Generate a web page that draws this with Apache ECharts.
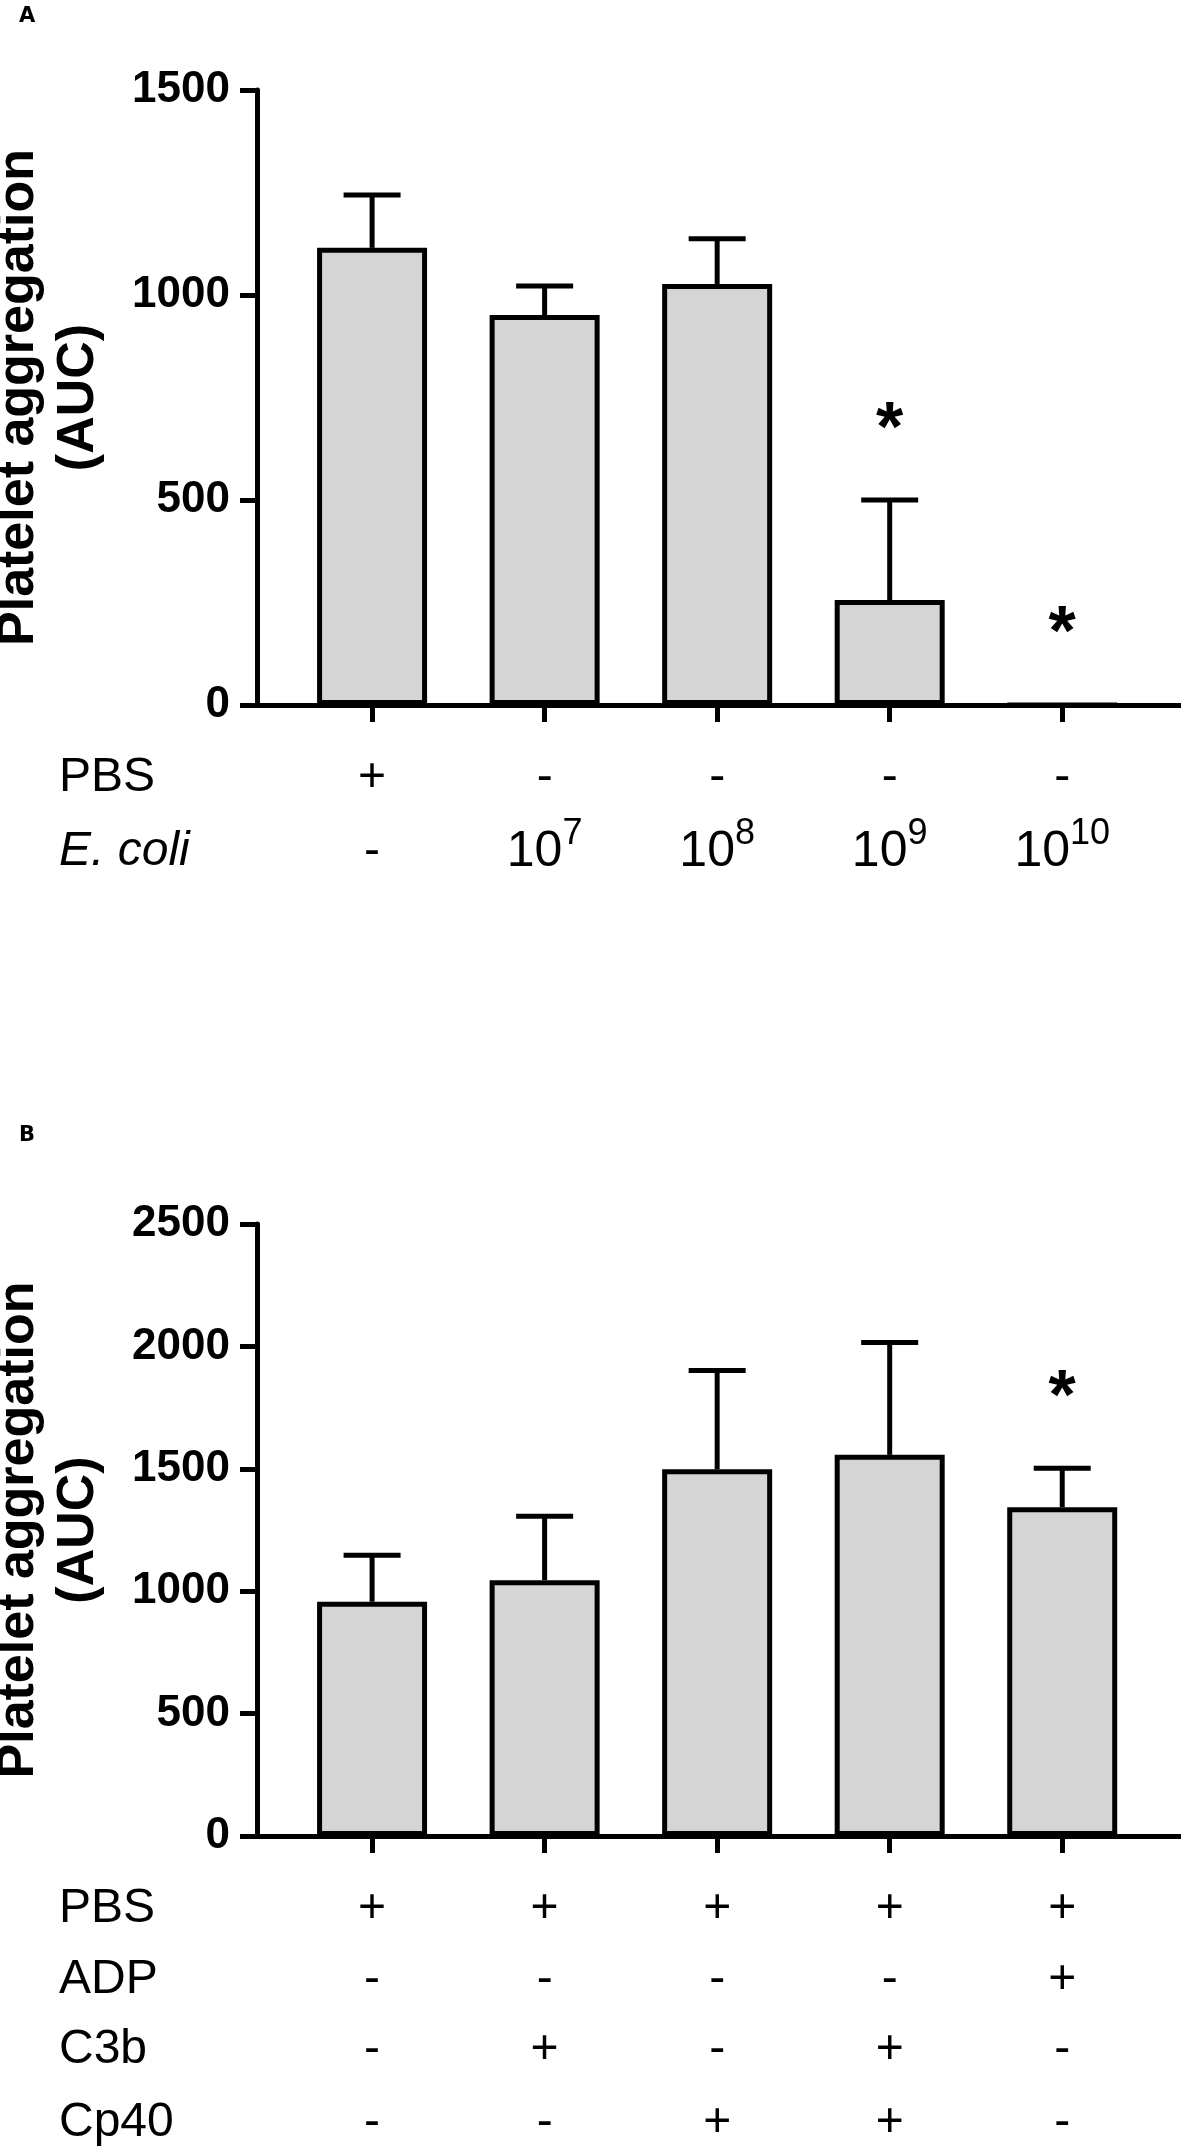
<!DOCTYPE html>
<html>
<head>
<meta charset="utf-8">
<title>Platelet aggregation</title>
<script src="https://cdn.jsdelivr.net/npm/echarts@6.0.0/dist/echarts.min.js"></script>
<style>
  html, body { margin: 0; padding: 0; background: #fff; }
  #chart { width: 1181px; height: 2150px; }
</style>
</head>
<body>
<div id="chart"></div>
<script>
// Panel A - E. coli dose
const aMeans = [1115, 951, 1027, 256, 0]
const aUpper = [1244, 1022, 1137, 500, null]
const aStars = [null, null, null, 703, 206]
const aTicks = [0, 500, 1000, 1500]
const aRowNames = ['PBS', 'E. coli']
const aRowPBS = ['+', '-', '-', '-', '-']
const aRowEcoli = ['-', '10^7', '10^8', '10^9', '10^10']

// Panel B - C3b / Cp40 / ADP
const bMeans = [957, 1045, 1498, 1557, 1343]
const bUpper = [1147, 1306, 1902, 2016, 1502]
const bStars = [null, null, null, null, 1845]
const bTicks = [0, 500, 1000, 1500, 2000, 2500]
const bRowNames = ['PBS', 'ADP', 'C3b', 'Cp40']
const bRowPBS = ['+', '+', '+', '+', '+']
const bRowADP = ['-', '-', '-', '-', '+']
const bRowC3b = ['-', '+', '-', '+', '-']
const bRowCp40 = ['-', '-', '+', '+', '-']

const groups = [0, 1, 2, 3, 4]
const X_MIN = -0.667
const X_MAX = 4.7
const FONT = "'Liberation Sans', Arial, sans-serif"
const BAR_FILL = '#d4d5d4'

const rich = {
  b: { fontSize: 50, lineHeight: 72, height: 72, verticalAlign: 'bottom', fontFamily: FONT, color: '#000' },
  s: { fontSize: 36, lineHeight: 36, height: 36, verticalAlign: 'top', fontFamily: FONT, color: '#000' }
}

// "10^7" -> rich text with superscript
const fmtLabel = (txt) => {
  if (txt == null) return ''
  const p = txt.split('^')
  return p.length === 2 ? '{b|' + p[0] + '}{s|' + p[1] + '}' : txt
}

const mainX = (gridIndex) => ({
  type: 'value', gridIndex, min: X_MIN, max: X_MAX, position: 'bottom',
  axisLine: { onZero: false, lineStyle: { color: '#000', width: 5 } },
  axisTick: { show: true, customValues: groups, length: 17, lineStyle: { color: '#000', width: 5 } },
  axisLabel: { show: false },
  splitLine: { show: false }
})

const rowX = (gridIndex, name, labels, offset, italic) => ({
  type: 'value', gridIndex, min: X_MIN, max: X_MAX, position: 'bottom', offset,
  name, nameLocation: 'start', nameGap: 198,
  nameTextStyle: {
    align: 'left', verticalAlign: 'middle', fontSize: 48, color: '#000',
    fontFamily: FONT, fontStyle: italic ? 'italic' : 'normal'
  },
  axisLine: { show: false, onZero: false },
  axisTick: { show: false },
  splitLine: { show: false },
  axisLabel: {
    customValues: groups, margin: 0, verticalAlign: 'middle',
    fontSize: 48, color: '#000', fontFamily: FONT, rich,
    formatter: (v) => fmtLabel(labels[Math.round(v)])
  }
})

const yAx = (gridIndex, ticks) => ({
  type: 'value', gridIndex,
  min: ticks[0], max: ticks[ticks.length - 1], interval: ticks[1] - ticks[0],
  axisLine: { show: true, onZero: false, lineStyle: { color: '#000', width: 5 } },
  axisTick: { show: true, length: 17, lineStyle: { color: '#000', width: 5 } },
  axisLabel: {
    fontSize: 44, fontWeight: 'bold', color: '#000', margin: 27, fontFamily: FONT,
    formatter: (v) => String(v)
  },
  splitLine: { show: false },
  name: 'Platelet aggregation\n(AUC)', nameLocation: 'middle', nameGap: 208, nameRotate: 90,
  nameTextStyle: {
    fontSize: 52, fontWeight: 'bold', color: '#000', lineHeight: 60,
    align: 'center', verticalAlign: 'middle', fontFamily: FONT
  }
})

const renderErr = (params, api) => {
  const base = api.coord([api.value(0), api.value(1)])
  const top = api.coord([api.value(0), api.value(2)])
  const half = 28.5
  const style = { stroke: '#000', lineWidth: 5, fill: null }
  return {
    type: 'group',
    children: [
      { type: 'line', shape: { x1: base[0], y1: base[1], x2: top[0], y2: top[1] }, style },
      { type: 'line', shape: { x1: top[0] - half, y1: top[1], x2: top[0] + half, y2: top[1] }, style }
    ]
  }
}

const panelSeries = (xi, yi, means, upper, stars) => [
  {
    type: 'bar', xAxisIndex: xi, yAxisIndex: yi, barWidth: 110,
    data: means.map((v, i) => [i, v]),
    itemStyle: { color: BAR_FILL, borderColor: '#000', borderWidth: 5 },
    silent: true
  },
  {
    type: 'custom', xAxisIndex: xi, yAxisIndex: yi, z: 3,
    renderItem: renderErr,
    encode: { x: 0, y: 2 },
    data: means.map((v, i) => [i, v, upper[i]]).filter((d) => d[2] != null),
    silent: true
  },
  {
    type: 'scatter', xAxisIndex: xi, yAxisIndex: yi, symbolSize: 1, z: 4,
    itemStyle: { color: 'rgba(0,0,0,0)', opacity: 1 },
    data: stars.map((v, i) => [i, v]).filter((d) => d[1] != null),
    label: {
      show: true, position: 'inside', formatter: '*', offset: [0, 15],
      fontSize: 70, fontWeight: 'bold', color: '#000', opacity: 1,
      textBorderWidth: 0, fontFamily: FONT
    },
    silent: true
  }
]

const chart = echarts.init(document.getElementById('chart'), null, { renderer: 'canvas' })

chart.setOption({
  animation: false,
  backgroundColor: '#fff',
  grid: [
    { left: 257, top: 90, width: 926, height: 615, outerBoundsMode: 'none', containLabel: false },
    { left: 257, top: 1224, width: 926, height: 612, outerBoundsMode: 'none', containLabel: false }
  ],
  xAxis: [
    mainX(0),
    rowX(0, aRowNames[0], aRowPBS, 73, false),
    rowX(0, aRowNames[1], aRowEcoli, 147, true),
    mainX(1),
    rowX(1, bRowNames[0], bRowPBS, 73, false),
    rowX(1, bRowNames[1], bRowADP, 144, false),
    rowX(1, bRowNames[2], bRowC3b, 214, false),
    rowX(1, bRowNames[3], bRowCp40, 287, false)
  ],
  yAxis: [yAx(0, aTicks), yAx(1, bTicks)],
  graphic: [
    { type: 'text', left: 19, top: 6, style: { text: 'A', fontSize: 21, fontWeight: 'bold', fill: '#000', fontFamily: "'DejaVu Sans', sans-serif" } },
    { type: 'text', left: 19, top: 1125, style: { text: 'B', fontSize: 21, fontWeight: 'bold', fill: '#000', fontFamily: "'DejaVu Sans', sans-serif" } }
  ],
  series: [
    ...panelSeries(0, 0, aMeans, aUpper, aStars),
    ...panelSeries(3, 1, bMeans, bUpper, bStars)
  ]
})

window.addEventListener('resize', () => chart.resize())
</script>
</body>
</html>
